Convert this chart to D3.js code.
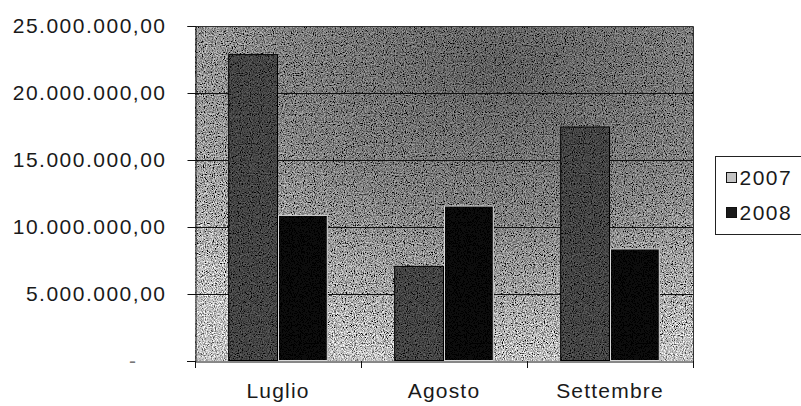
<!DOCTYPE html>
<html>
<head>
<meta charset="utf-8">
<script src="https://cdn.jsdelivr.net/npm/d3@7"></script>
<style>
  body { margin: 0; background: #fff; }
  text { font-family: "Liberation Sans", Arial, sans-serif; fill: #1a1a1a; }
</style>
</head>
<body>
<script>
var months = ["Luglio", "Agosto", "Settembre"];
var years = ["2007", "2008"];
var values2007 = [22900000, 7100000, 17500000];
var values2008 = [10900000, 11600000, 8400000];
var yTicks = [0, 5000000, 10000000, 15000000, 20000000, 25000000];

var width = 801, height = 406;
var plot = {left: 195, right: 693, top: 26, bottom: 361};

var rows = months.map(function (m, i) {
  return {month: m, "2007": values2007[i], "2008": values2008[i]};
});

var it = d3.formatLocale({decimal: ",", thousands: ".", grouping: [3], currency: ["€", ""]});
var fmt = it.format(",.2f");

var x0 = d3.scaleBand().domain(months).range([plot.left, plot.right])
  .paddingInner(0.4).paddingOuter(0.2);
var x1 = d3.scaleBand().domain(years).range([0, x0.bandwidth()]);
var y = d3.scaleLinear().domain([0, 25000000]).range([plot.bottom, plot.top]);
var color = d3.scaleOrdinal().domain(years).range(["#444", "#080808"]);
var swatch = d3.scaleOrdinal().domain(years).range(["#c4c4c4", "#1a1a1a"]);

var svg = d3.select("body").append("svg")
  .attr("width", width)
  .attr("height", height);

var defs = svg.append("defs");
var grad = defs.append("radialGradient").attr("id", "bg")
  .attr("cx", "62%").attr("cy", "12%").attr("r", "90%");
grad.append("stop").attr("offset", "0%").attr("stop-color", "#5e5e5e");
grad.append("stop").attr("offset", "50%").attr("stop-color", "#808080");
grad.append("stop").attr("offset", "100%").attr("stop-color", "#c2c2c2");

var grain = defs.append("filter").attr("id", "grain")
  .attr("x", 0).attr("y", 0).attr("width", 1).attr("height", 1);
grain.append("feTurbulence").attr("type", "fractalNoise")
  .attr("baseFrequency", 0.9).attr("numOctaves", 2).attr("seed", 5).attr("result", "noise");
grain.append("feColorMatrix").attr("in", "noise").attr("type", "saturate")
  .attr("values", 0).attr("result", "gray");
var ct = grain.append("feComponentTransfer").attr("in", "gray").attr("result", "hard");
["feFuncR", "feFuncG", "feFuncB"].forEach(function (f) {
  ct.append(f).attr("type", "linear").attr("slope", 3).attr("intercept", -1);
});
ct.append("feFuncA").attr("type", "linear").attr("slope", 0).attr("intercept", 1);
grain.append("feBlend").attr("in", "hard").attr("in2", "SourceGraphic").attr("mode", "overlay").attr("result", "mix");
grain.append("feComposite").attr("in", "mix").attr("in2", "SourceGraphic").attr("operator", "in");

// plot area
svg.append("rect")
  .attr("x", plot.left).attr("y", plot.top)
  .attr("width", plot.right - plot.left).attr("height", plot.bottom - plot.top)
  .attr("fill", "url(#bg)")
  .attr("filter", "url(#grain)");

// gridlines
svg.append("g").selectAll("line")
  .data(yTicks.filter(function (d) { return d > 0; }))
  .join("line")
  .attr("x1", plot.left).attr("x2", plot.right)
  .attr("y1", function (d) { return Math.round(y(d)) + 0.5; })
  .attr("y2", function (d) { return Math.round(y(d)) + 0.5; })
  .attr("stroke", "#111").attr("stroke-width", 1);

// bars
svg.append("g").selectAll("g")
  .data(rows)
  .join("g")
  .attr("transform", function (d) { return "translate(" + x0(d.month) + ",0)"; })
  .selectAll("rect")
  .data(function (d) { return years.map(function (k) { return {key: k, value: d[k]}; }); })
  .join("rect")
  .attr("x", function (d) { return x1(d.key); })
  .attr("y", function (d) { return y(d.value); })
  .attr("width", x1.bandwidth())
  .attr("height", function (d) { return y(0) - y(d.value); })
  .attr("fill", function (d) { return color(d.key); })
  .attr("filter", "url(#grain)");

svg.append("g").selectAll("rect")
  .data(rows.flatMap(function (r) { return years.map(function (k) { return {month: r.month, key: k, value: r[k]}; }); }))
  .join("rect")
  .attr("x", function (d) { return x0(d.month) + x1(d.key) + 0.5; })
  .attr("y", function (d) { return y(d.value) + 0.5; })
  .attr("width", x1.bandwidth() - 1)
  .attr("height", function (d) { return y(0) - y(d.value) - 1; })
  .attr("fill", "none")
  .attr("stroke", function (d) { return d.key === "2007" ? "#000" : "#d8d8d8"; })
  .attr("stroke-width", 1);

// plot border top/right
svg.append("path")
  .attr("d", "M" + plot.left + "," + (plot.top + 0.5) + "H" + (plot.right + 0.5) + "V" + plot.bottom)
  .attr("fill", "none").attr("stroke", "#333");

// y axis
var yAxis = d3.axisLeft(y).tickValues(yTicks).tickSize(8).tickPadding(21)
  .tickFormat(function (d) { return d === 0 ? "-" : fmt(d); });
var gy = svg.append("g")
  .attr("transform", "translate(" + (plot.left + 0.5) + ",0)")
  .call(yAxis);
gy.select(".domain").attr("stroke", "#111");
gy.selectAll(".tick line").attr("stroke", "#111");
gy.selectAll(".tick text")
  .style("font-size", "21px")
  .style("letter-spacing", "1.5px")
  .attr("fill", "#1a1a1a");
gy.selectAll(".tick").filter(function (d) { return d === 0; }).select("text")
  .attr("x", -58).style("fill", "#777");

// x axis
var xAxis = d3.axisBottom(x0).tickSize(0).tickPadding(22);
var gx = svg.append("g")
  .attr("transform", "translate(0," + (plot.bottom + 0.5) + ")")
  .call(xAxis);
gx.select(".domain").attr("stroke", "#111");
gx.selectAll(".tick text")
  .style("font-size", "21px")
  .style("letter-spacing", "1.2px")
  .attr("fill", "#1a1a1a");
svg.append("line")
  .attr("x1", plot.left - 8).attr("x2", plot.left)
  .attr("y1", plot.bottom + 0.5).attr("y2", plot.bottom + 0.5)
  .attr("stroke", "#111");
svg.append("g").selectAll("line")
  .data(d3.range(months.length + 1))
  .join("line")
  .attr("x1", function (i) { return Math.round(plot.left + i * x0.step()) + 0.5; })
  .attr("x2", function (i) { return Math.round(plot.left + i * x0.step()) + 0.5; })
  .attr("y1", plot.bottom).attr("y2", plot.bottom + 7)
  .attr("stroke", "#111");

// legend
var lg = svg.append("g").attr("transform", "translate(715.5,156.5)");
lg.append("rect")
  .attr("width", 100).attr("height", 78)
  .attr("fill", "#fff").attr("stroke", "#222");
var li = lg.selectAll("g.item")
  .data(years)
  .join("g")
  .attr("class", "item")
  .attr("transform", function (d, i) { return "translate(0," + (16 + i * 35) + ")"; });
li.append("rect")
  .attr("x", 11).attr("y", 0).attr("width", 10).attr("height", 10)
  .attr("fill", function (d) { return swatch(d); })
  .attr("stroke", "#111");
li.append("text")
  .attr("x", 24).attr("y", 5).attr("dy", "0.36em")
  .style("font-size", "21px")
  .style("letter-spacing", "1.5px")
  .text(function (d) { return d; });
</script>
</body>
</html>
